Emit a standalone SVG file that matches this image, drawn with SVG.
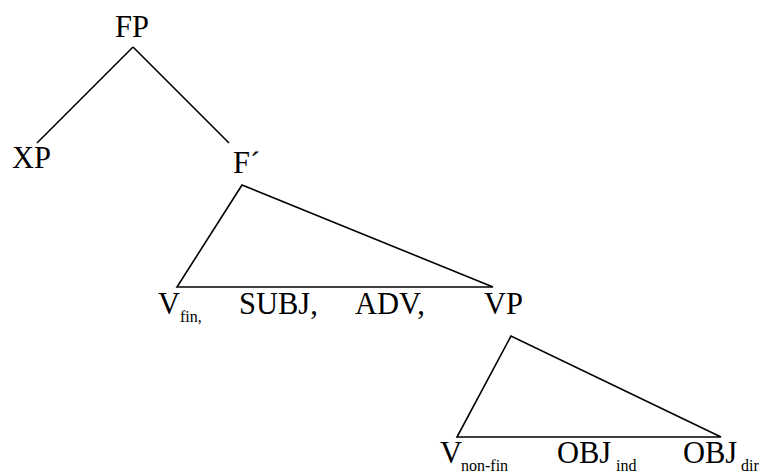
<svg xmlns="http://www.w3.org/2000/svg" width="760" height="475" viewBox="0 0 760 475" font-family="'Liberation Serif', 'Times New Roman', serif">
<style>
  .lab { font-family: 'Liberation Serif', 'Times New Roman', serif; font-size: 30.5px; fill: #000; }
  .sub { font-family: 'Liberation Serif', 'Times New Roman', serif; font-size: 16px; fill: #000; }
  .edge { stroke: #000; stroke-width: 1.6; fill: none; stroke-linejoin: miter; }
</style>
<rect width="760" height="475" fill="#fff"/>
<g id="connectors">
  <line class="edge" x1="133" y1="47" x2="37" y2="143"/>
  <line class="edge" x1="133" y1="47" x2="229" y2="143"/>
  <polygon class="edge" points="242,185 177,287 493,287"/>
  <polygon class="edge" points="511,336 457,437 721,437"/>
</g>
<g id="FP"><text class="lab" x="115" y="37">FP</text></g>
<g id="XP"><text class="lab" x="12" y="168">XP</text></g>
<g id="Fbar"><text class="lab" x="233" y="173">F´</text></g>
<g id="Vfin"><text class="lab" x="158" y="314">V</text><text class="sub" x="180" y="322">fin,</text></g>
<g id="SUBJ"><text class="lab" x="239" y="314">SUBJ,</text></g>
<g id="ADV"><text class="lab" x="355" y="314">ADV,</text></g>
<g id="VP"><text class="lab" x="484" y="314">VP</text></g>
<g id="Vnonfin"><text class="lab" x="440" y="463">V</text><text class="sub" x="461" y="471">non-fin</text></g>
<g id="OBJind"><text class="lab" x="557" y="463">OBJ</text><text class="sub" x="616" y="471">ind</text></g>
<g id="OBJdir"><text class="lab" x="683" y="463">OBJ</text><text class="sub" x="741" y="471">dir</text></g>
</svg>
